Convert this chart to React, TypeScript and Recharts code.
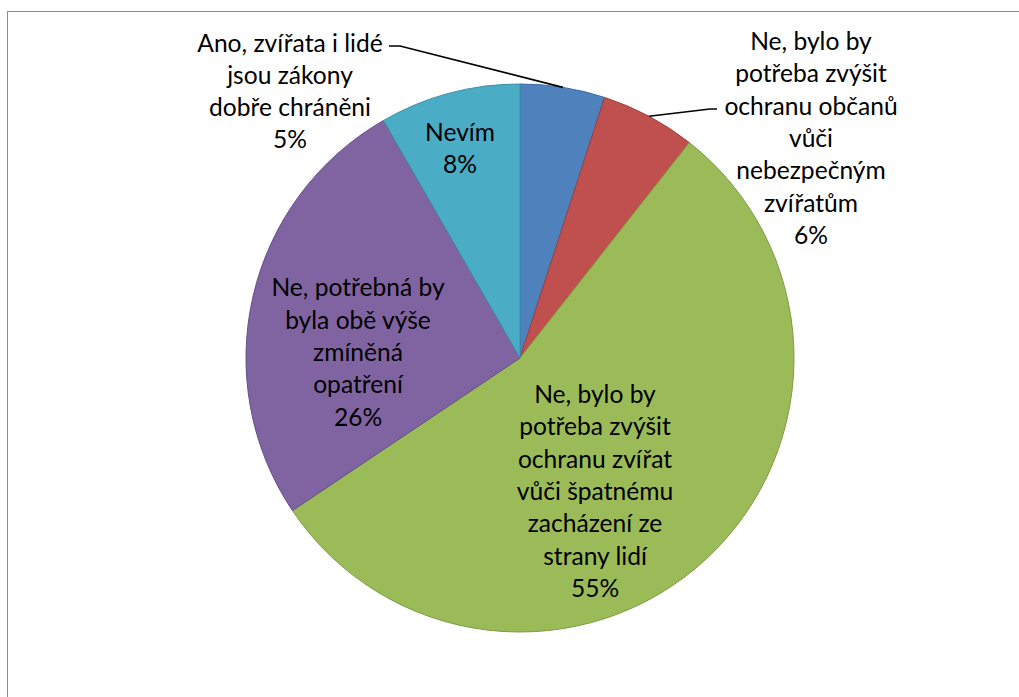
import { PieChart, Pie, Cell } from 'recharts';

// answer categories (line breaks as in the chart labels)
const categories = [
  'Ano, zvířata i lidé\njsou zákony\ndobře chráněni',
  'Ne, bylo by\npotřeba zvýšit\nochranu občanů\nvůči\nnebezpečným\nzvířatům',
  'Ne, bylo by\npotřeba zvýšit\nochranu zvířat\nvůči špatnému\nzacházení ze\nstrany lidí',
  'Ne, potřebná by\nbyla obě výše\nzmíněná\nopatření',
  'Nevím',
];
const shares = [5.0, 5.6, 55.0, 26.1, 8.3];

const fills = ['#4F81BD', '#C0504D', '#9BBB59', '#8064A2', '#4BACC6'];
const strokes = ['#3D6A9E', '#9E3F3C', '#7E9B45', '#664E86', '#3A8EA6'];

// label centre offsets from the pie centre, and leader line points relative to the label centre
const labelOffsets = [
  { dx: -230, dy: -268, leader: [[110, -44], [99, -44]] },
  { dx: 291, dy: -221, leader: [[-101, -28], [-94, -28]] },
  { dx: 75, dy: 132, leader: null },
  { dx: -162, dy: -7, leader: null },
  { dx: -60, dy: -211, leader: null },
];

const LINE_H = 32.3;
const RAD = Math.PI / 180;

const data = categories.map((name, i) => ({ name, value: shares[i] }));

function renderLabel(props: any) {
  const { cx, cy, midAngle, outerRadius, index, percent } = props;
  const lay = labelOffsets[index];
  const x = cx + lay.dx;
  const y = cy + lay.dy;
  const lines = [...categories[index].split('\n'), `${Math.round(percent * 100)}%`];
  const top = y - ((lines.length - 1) / 2) * LINE_H;
  let leader = null;
  if (lay.leader) {
    const sx = cx + outerRadius * Math.cos(-midAngle * RAD);
    const sy = cy + outerRadius * Math.sin(-midAngle * RAD);
    const pts = [[sx, sy], ...lay.leader.map(([px, py]) => [x + px, y + py])];
    leader = (
      <polyline
        points={pts.map((p) => p.join(',')).join(' ')}
        fill="none"
        stroke="#000"
        strokeWidth={1.6}
      />
    );
  }
  return (
    <g key={`lbl-${index}`}>
      {leader}
      <text
        x={x}
        y={top}
        textAnchor="middle"
        dominantBaseline="central"
        fill="#000"
        fontFamily="Lato, 'Open Sans', sans-serif"
        fontSize={24.6}
      >
        {lines.map((ln, i) => (
          <tspan key={i} x={x} y={top + i * LINE_H}>
            {ln}
          </tspan>
        ))}
      </text>
    </g>
  );
}

export default function App() {
  return (
    <div style={{ position: 'absolute', left: 0, top: 0, width: 1019, height: 697, background: '#fff', overflow: 'hidden' }}>
      <div
        style={{
          position: 'absolute',
          left: 7,
          top: 11,
          width: 1100,
          height: 800,
          borderLeft: '1px solid #8c8c8c',
          borderTop: '1px solid #8c8c8c',
        }}
      />
      <div style={{ position: 'absolute', left: 0, top: 0 }}>
        <PieChart width={1019} height={697} margin={{ top: 0, right: 0, bottom: 0, left: 0 }}>
          <Pie
            data={data}
            dataKey="value"
            nameKey="name"
            cx={520}
            cy={358}
            outerRadius={274}
            startAngle={90}
            endAngle={-270}
            label={renderLabel}
            labelLine={false}
            isAnimationActive={false}
          >
            {data.map((_, i) => (
              <Cell key={i} fill={fills[i]} stroke={strokes[i]} strokeWidth={1} />
            ))}
          </Pie>
        </PieChart>
      </div>
    </div>
  );
}
